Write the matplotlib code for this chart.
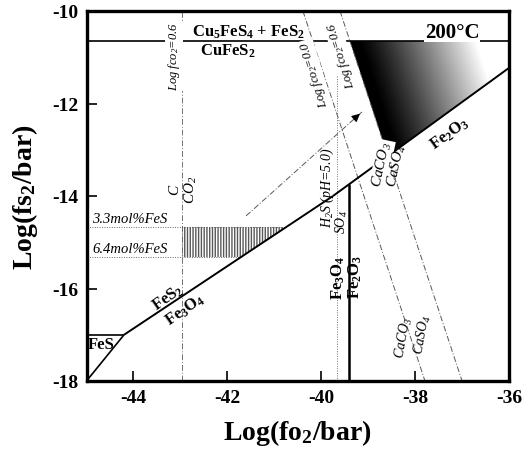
import matplotlib.pyplot as plt
import numpy as np
from matplotlib.patches import Polygon

plt.rcParams["font.family"] = ["Liberation Serif", "DejaVu Serif"]
plt.rcParams["mathtext.default"] = "regular"

# phase boundaries, x = log fO2, y = log fS2 (200 C)
fes_py_x = [-45.0, -44.2]
fes_py_y = [-18.0, -17.0]
fes_cap_x = [-45.0, -44.2]
fes_cap_y = [-17.0, -17.0]
py_mt_x = [-44.2, -39.75]
py_mt_y = [-17.0, -14.0]
py_hm_x = [-39.75, -36.0]
py_hm_y = [-14.0, -11.23]
mt_hm_x = [-39.41, -39.41]
mt_hm_y = [-13.75, -18.0]
bn_cp_y = -10.65  # Cu5FeS4 + FeS2 / CuFeS2

# reference lines
co2_c_x = -42.96
h2s_so4_x = -39.66
h2s_so4_y = [-11.4, -18.0]
calc_00_x = [-40.39, -37.79]  # CaCO3/CaSO4, log fCO2 = 0.0
calc_00_y = [-10.0, -18.0]
calc_06_x = [-39.60, -37.0]   # CaCO3/CaSO4, log fCO2 = 0.6
calc_06_y = [-10.0, -18.0]

# FeS content of sphalerite
fes_mol_y = [-14.67, -15.32]
fes_mol_labels = ["3.3mol%FeS", "6.4mol%FeS"]

arrow_x = [-41.60, -39.13]
arrow_y = [-14.43, -12.18]

fig = plt.figure(figsize=(5.27, 4.52), dpi=100)
ax = fig.add_axes([86.5 / 527, 1 - 382 / 452, 422.5 / 527, 370 / 452])

dashdot = (0, (6, 2, 1, 2))
ax.axvline(co2_c_x, color="0.45", lw=0.7, ls=dashdot, zorder=2)
ax.plot([h2s_so4_x, h2s_so4_x], h2s_so4_y, color="0.45", lw=0.7, ls=(0, (1, 1.5)), zorder=2)
ax.plot(calc_00_x, calc_00_y, color="0.35", lw=0.7, ls=dashdot, zorder=2)
ax.plot(calc_06_x, calc_06_y, color="0.35", lw=0.7, ls=dashdot, zorder=2)

# shaded field right of the fCO2 = 0.6 line
a_b, b_b = np.polyfit(calc_06_x, calc_06_y, 1)
a_h, b_h = np.polyfit(py_hm_x, py_hm_y, 1)
x_int = (b_h - b_b) / (a_b - a_h)
y_int = a_b * x_int + b_b
x_top = (bn_cp_y - b_b) / a_b
tri = Polygon([(x_top, bn_cp_y), (py_hm_x[-1], bn_cp_y), (py_hm_x[-1], py_hm_y[-1]), (x_int, y_int)],
              closed=True, fc="none", ec="none")
ax.add_patch(tri)
gx = np.linspace(x_top - 0.1, py_hm_x[-1], 300)
gy = np.linspace(y_int - 0.1, bn_cp_y, 200)
GX, GY = np.meshgrid(gx, gy)
edge = (GY - b_b) / a_b
shade = np.clip((GX - edge - 0.2) / 2.5, 0, 1) ** 1.15
im = ax.imshow(shade, extent=[gx[0], gx[-1], gy[0], gy[-1]], origin="lower",
               cmap="gray", vmin=0, vmax=1, aspect="auto", zorder=1)
im.set_clip_path(tri)

# sphalerite composition band
xs = [np.interp(y, py_mt_y, py_mt_x) for y in fes_mol_y]
for y, xe in zip(fes_mol_y, xs):
    ax.plot([-45, xe], [y, y], color="0.4", lw=0.7, ls=(0, (1, 1.5)), zorder=2)
band = Polygon([(co2_c_x, fes_mol_y[0]), (xs[0], fes_mol_y[0]), (xs[1], fes_mol_y[1]), (co2_c_x, fes_mol_y[1])],
               closed=True, fc="none", ec="0.35", lw=0, hatch="||||||", zorder=2)
ax.add_patch(band)

# phase boundaries
for xx, yy, lw in [(fes_py_x, fes_py_y, 1.2), (fes_cap_x, fes_cap_y, 1.2), (py_mt_x, py_mt_y, 1.4),
                   (py_hm_x, py_hm_y, 1.4), (mt_hm_x, mt_hm_y, 1.8)]:
    ax.plot(xx, yy, color="black", lw=lw, solid_capstyle="butt", zorder=3)
ax.axhline(bn_cp_y, color="black", lw=1.2, zorder=3)

# arrow
ax.plot(arrow_x, arrow_y, color="0.35", lw=0.7, ls=dashdot, zorder=3)
ax.annotate("", xy=(arrow_x[1], arrow_y[1]),
            xytext=(arrow_x[1] - 0.15, arrow_y[1] - 0.135),
            arrowprops=dict(arrowstyle="-|>", color="black", lw=0.8, mutation_scale=12), zorder=3)

white = dict(facecolor="white", edgecolor="none", pad=0.5)
bold = dict(fontweight="bold", ha="center", va="center", zorder=5)
ital = dict(style="italic", ha="center", va="center", zorder=5)

ax.text(-41.56, -10.43, "Cu$_5$FeS$_4$ + FeS$_2$", fontsize=12, **bold)
ax.text(-41.98, -10.86, "CuFeS$_2$", fontsize=12, **bold)
ax.text(-37.21, -10.45, "200°C", fontsize=15, bbox=white, **bold)
ax.text(-44.69, -17.2, "FeS", fontsize=12, **bold)
ax.text(-43.26, -16.18, "FeS$_2$", fontsize=12, rotation=35, **bold)
ax.text(-42.90, -16.44, "Fe$_3$O$_4$", fontsize=12, rotation=35, **bold)
ax.text(-37.27, -12.63, "Fe$_2$O$_3$", fontsize=12, rotation=36, **bold)
ax.text(-39.63, -15.75, "Fe$_3$O$_4$", fontsize=12, rotation=90, **bold)
ax.text(-39.27, -15.72, "Fe$_2$O$_3$", fontsize=12, rotation=90, **bold)

ax.text(-43.14, -10.97, "Log $f$co$_2$=0.6", fontsize=9, rotation=90, bbox=white, **ital)
ax.text(-43.13, -13.85, "C", fontsize=11, rotation=90, **ital)
ax.text(-42.78, -13.85, "CO$_2$", fontsize=11, rotation=90, **ital)
for y, lab in zip(fes_mol_y, fes_mol_labels):
    ax.text(-44.88, y + 0.04, lab, fontsize=10.5, style="italic", ha="left", va="bottom", zorder=5)

ax.text(-40.15, -11.36, "Log $f$co$_2$=0.0", fontsize=9, rotation=107, bbox=white, **ital)
ax.text(-39.58, -10.93, "Log $f$co$_2$=0.6", fontsize=9, rotation=107, bbox=white, **ital)
ax.text(-39.87, -13.80, "H$_2$S (pH=5.0)", fontsize=10, rotation=90, **ital)
ax.text(-39.55, -14.55, "SO$_4$", fontsize=10, rotation=90, **ital)
ax.text(-38.70, -13.30, "CaCO$_3$", fontsize=11, rotation=78, bbox=white, **ital)
ax.text(-38.40, -13.34, "CaSO$_4$", fontsize=11, rotation=78, **ital)
ax.text(-38.24, -17.05, "CaCO$_3$", fontsize=10, rotation=80, **ital)
ax.text(-37.85, -16.98, "CaSO$_4$", fontsize=10, rotation=80, **ital)

ax.set_xlim(-45, -36)
ax.set_ylim(-18, -10)
ax.set_xticks([-44, -42, -40, -38, -36])
ax.set_yticks([-18, -16, -14, -12, -10])
ax.set_xticklabels(["-44", "-42", "-40", "-38", "-36"])
ax.set_yticklabels(["-18", "-16", "-14", "-12", "-10"])
ax.tick_params(direction="in", length=7, width=1.2, pad=6, labelsize=14)
for lab in ax.get_xticklabels() + ax.get_yticklabels():
    lab.set_fontweight("bold")
for sp in ax.spines.values():
    sp.set_linewidth(2.4)

ax.set_xlabel("Log(fo$_2$/bar)", fontsize=20, fontweight="bold", va="center")
ax.xaxis.set_label_coords(0.5, -0.138)
ax.set_ylabel("Log(fs$_2$/bar)", fontsize=20, fontweight="bold", va="center")
ax.yaxis.set_label_coords(-0.146, 0.5)

fig.savefig("out.png", dpi=100)
